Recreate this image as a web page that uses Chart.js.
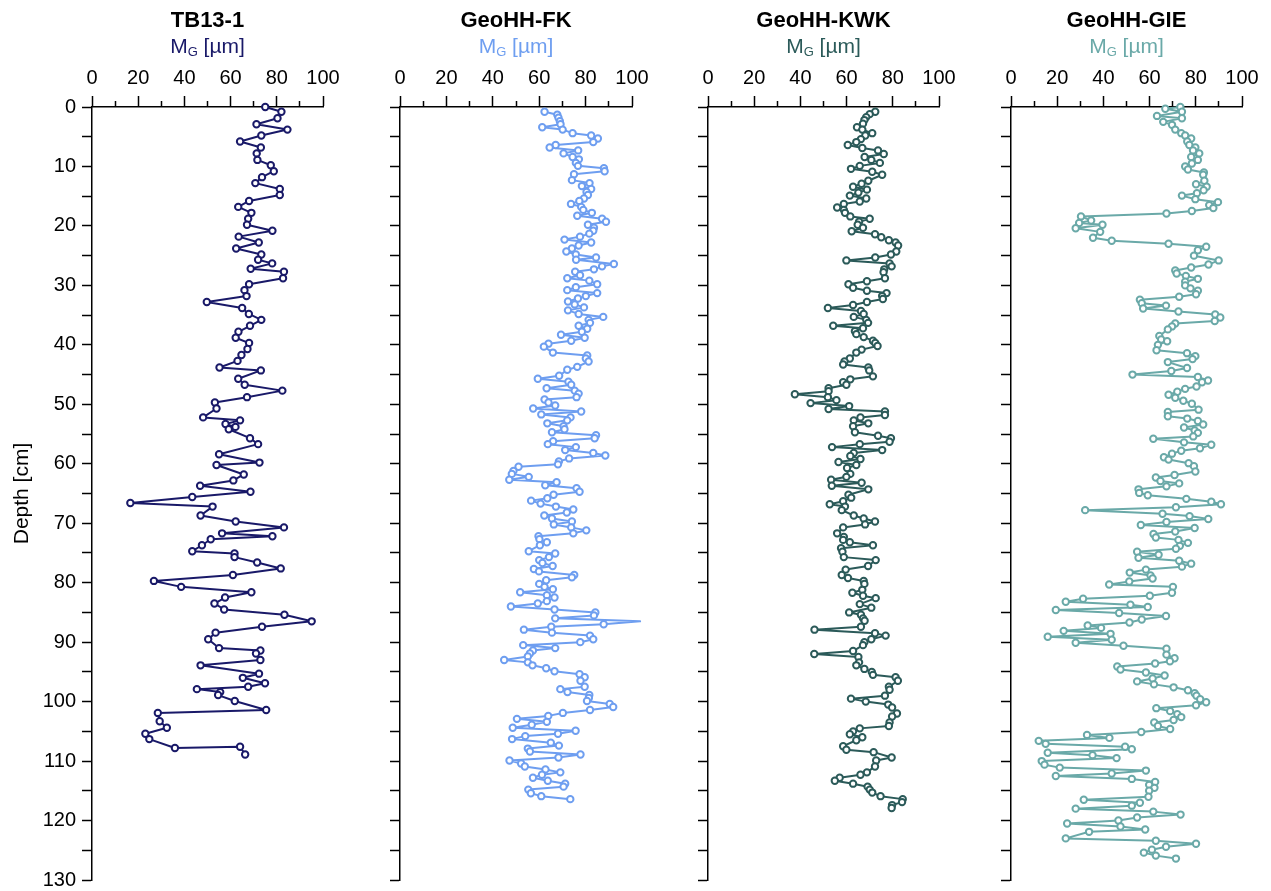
<!DOCTYPE html>
<html>
<head>
<meta charset="utf-8">
<title>Mean grain size profiles</title>
<script src="https://cdn.jsdelivr.net/npm/chart.js@4.4.1/dist/chart.umd.min.js"></script>
<style>
  body { margin: 0; background: #fff; }
  #page { position: relative; width: 1271px; height: 891px; overflow: hidden; font-family: "Liberation Sans", Arial, sans-serif; }
  #page canvas { position: absolute; top: 0; }
  .core { position: absolute; top: 0; width: 260px; margin-left: -130px; text-align: center; }
  .core .name { position: absolute; top: 7px; width: 100%; font-size: 22px; font-weight: bold; line-height: 26px; color: #000; }
  .core .unit { position: absolute; top: 33px; width: 100%; font-size: 21px; line-height: 26px; }
  .core .unit sub { font-size: 13px; vertical-align: -3px; }
</style>
</head>
<body>
<div id="page">
  <canvas id="c1"></canvas>
  <canvas id="c2"></canvas>
  <canvas id="c3"></canvas>
  <canvas id="c4"></canvas>
</div>
<script>
// depth [cm] and mean grain size M_G [um]
const tbDepth = [
  0, 0.8, 1.9, 2.9, 3.8, 4.8, 5.8, 6.8, 7.8, 8.9,
  9.8, 10.8, 11.8, 12.8, 13.8, 14.8, 15.8, 16.8, 17.8, 18.8,
  19.8, 20.8, 21.8, 22.8, 23.8, 24.8, 25.7, 26.3, 27.2, 27.7,
  28.8, 29.8, 30.8, 31.8, 32.8, 33.8, 34.8, 35.8, 36.8, 37.8,
  38.8, 39.7, 40.7, 41.7, 42.7, 43.8, 44.3, 45.7, 46.7, 47.7,
  48.8, 49.7, 50.7, 52.2, 52.7, 53.3, 53.8, 54.2, 55.7, 56.7,
  58.4, 59.8, 60.2, 61.8, 62.8, 63.7, 64.7, 65.6, 66.6, 67.2,
  68.7, 69.7, 70.7, 71.7, 72.2, 72.7, 73.7, 74.7, 75.1, 75.7,
  76.6, 77.6, 78.7, 79.7, 80.7, 81.6, 82.5, 83.5, 84.5, 85.4,
  86.5, 87.4, 88.4, 89.5, 91.0, 91.4, 91.9, 93.0, 93.9, 95.3,
  96.0, 96.9, 97.5, 97.9, 98.4, 98.9, 99.9, 101.4, 101.9, 103.3,
  104.4, 105.4, 106.3, 107.8, 107.6, 108.9
];
const tbMg = [
  75, 82, 80.3, 71.2, 84.6, 73.3, 64.1, 73.1, 71.3, 71.6,
  77.4, 78.7, 73.6, 70.7, 81.3, 81.3, 68, 63.3, 69, 67.6,
  67.1, 78.1, 63.5, 72.2, 62.4, 73.3, 71.9, 78, 68.7, 83.1,
  82.7, 68, 66, 66.9, 49.7, 65, 67.9, 73.3, 68.4, 63.4,
  62.2, 68, 67.3, 64.7, 63, 55.2, 73.1, 63.3, 66.1, 82.4,
  67.1, 53.2, 53.9, 48.1, 64.1, 57.8, 62.1, 59.2, 68.4, 71.9,
  55, 72.5, 53.9, 65.7, 61.2, 46.8, 68.6, 43.4, 16.6, 52.2,
  47, 62.2, 83.1, 56.3, 78.1, 51.4, 47.6, 43.4, 61.7, 61.7,
  71.5, 81.7, 61, 26.8, 38.6, 69, 57.6, 53, 57.2, 83.3,
  95.1, 73.6, 53.5, 50.3, 55, 72.9, 71, 72.9, 47, 72.3,
  65.3, 74.9, 67.6, 45.4, 55.5, 54.6, 61.8, 75.4, 28.5, 29.3,
  32.4, 23.1, 24.8, 35.9, 64.1, 66.3
];

const fkDepth = [
  0.8, 1.3, 1.8, 2.4, 2.9, 3.4, 3.8, 4.4, 4.8, 5.3,
  5.9, 6.4, 6.8, 7.3, 7.8, 8.4, 8.8, 9.4, 9.9, 10.3,
  10.8, 11.3, 12.3, 12.8, 13.3, 13.8, 14.3, 14.8, 15.4, 15.8,
  16.3, 16.8, 17.3, 17.8, 18.3, 18.8, 19.3, 19.8, 20.3, 20.8,
  21.3, 21.8, 22.3, 22.8, 23.3, 23.8, 24.3, 24.8, 25.3, 25.7,
  26.4, 26.8, 27.3, 27.7, 28.3, 28.8, 29.2, 29.8, 30.3, 30.8,
  31.3, 31.8, 32.2, 32.7, 33.2, 33.7, 34.2, 34.8, 35.3, 35.8,
  36.3, 36.8, 37.3, 37.8, 38.3, 38.8, 39.3, 39.8, 40.3, 41.3,
  41.8, 42.3, 42.8, 43.7, 44.2, 45.2, 45.7, 46.2, 46.7, 47.3,
  47.7, 48.2, 48.8, 49.2, 49.7, 50.2, 50.7, 51.2, 51.7, 52.2,
  52.7, 53.2, 53.7, 54.2, 54.7, 55.2, 55.7, 56.2, 56.7, 57.2,
  57.7, 58.2, 58.6, 59.1, 59.6, 60.1, 60.5, 61.2, 61.7, 62.2,
  62.7, 63.1, 63.6, 64.1,
  64.7, 65.2, 65.8, 66.2, 66.7, 67.2, 67.7, 68.2, 68.7, 69.2,
  69.7, 70.2, 70.7, 71.2, 71.7, 72.2, 72.7, 73.2, 73.7, 74.7,
  75.1, 75.7, 76.2, 76.7, 77.2, 77.7, 78.1, 78.7, 79.1, 79.6,
  80.2, 80.7, 81.1, 81.6, 82.1, 82.5, 83.1, 83.5, 84, 84.5,
  85, 85.5, 86, 86.5, 87, 87.4, 87.9, 88.4, 88.9, 89.5,
  90, 90.5, 91, 91.4, 91.9, 92.4, 93, 93.4, 93.9, 94.4,
  94.9, 95.4, 95.9, 96.5, 97.5, 97.9, 98.4, 98.9, 99.4, 99.9,
  100.4, 100.9, 101.4, 101.9, 102.4, 102.9, 103.4, 103.9, 104.4, 104.9,
  105.4, 105.8, 106.3, 106.9, 107.4, 107.9, 108.4, 108.9, 109.4, 109.9,
  110.4, 110.9, 111.4, 111.9, 112.3, 112.8, 113.3, 113.8, 114.3, 114.8,
  115.4, 115.9, 116.4
];
const fkMg = [
  62.3, 67.8, 68.3, 68.9, 69.2, 61.3, 70.1, 74.4, 82.4, 85.3,
  83.3, 67.1, 64.5, 76.8, 70.5, 74.4, 77.1, 75.8, 76.7, 87.9,
  88.2, 75, 74.1, 81.7, 78.4, 82.4, 80.4, 81, 79.3, 77.3,
  73.7, 78.1, 79, 82.7, 76.4, 87.1, 88.8, 81, 83.6, 83.3,
  81.6, 77.6, 70.9, 82.4, 77, 74.1, 71.7, 75.8, 84.5, 75.9,
  92.2, 87.1, 83.6, 75.5, 77.6, 72.1, 81.6, 85, 75.8, 72.1,
  85, 80.1, 76.7, 72.4, 75.3, 79.3, 72.4, 77, 87.6, 81.3,
  81.9, 77, 80.7, 78.4, 69.4, 79.6, 73.8, 64, 62, 65.9,
  80.7, 80.1, 81.3, 76.4, 72.1, 68.6, 59.4, 72.6, 73.8, 63.2,
  75.3, 77, 76.1, 62.3, 64, 66.9, 57.4, 78.1, 60.9, 73.5,
  72.1, 63.5, 70.5, 70.9, 65.5, 84.5, 83.9, 66, 63.7, 75.8,
  71.2, 83.3, 88.5, 72.9, 68.5, 68.1, 51.1, 48.9, 48.2, 55.5,
  47.1, 67.5, 62.6, 76.1,
  77.4, 66.2, 63.5, 56.5, 60.6, 67.2, 74.7, 71.9, 62.2, 65.5,
  74.1, 66.3, 73.8, 80.3, 74.7, 59.7, 60.1, 63.3, 60.3, 55.5,
  66.9, 64.2, 60, 61.4, 65.8, 57.7, 59.9, 75.1, 74.1, 63,
  60, 62.3, 65.9, 51.8, 63.3, 66.6, 63.3, 59.4, 47.8, 66.6,
  84.2, 83.6, 66.9, 103.5, 87.8, 65.2, 53.4, 65.5, 81.9, 83.3,
  77.7, 53.1, 66.9, 57.3, 56, 55.1, 44.9, 55.1, 57.1, 63,
  66.6, 77.4, 79.6, 77.8, 79.6, 69.1, 72.2, 81.6, 81.4, 80.6,
  90.4, 91.9, 81.9, 70.2, 63.9, 50.4, 63.3, 56.8, 48.6, 75.7,
  68.1, 54, 48.3, 65, 68.5, 55.1, 56, 77.8, 68.3, 47.2,
  52.2, 53.8, 62.7, 69.1, 61.2, 57.3, 63.7, 71.2, 70.5, 55.3,
  56.4, 60.9, 73.4
];

const kwkDepth = [
  0.8, 1.2, 1.7, 2.2, 2.8, 3.4, 3.8, 4.4, 4.8, 5.4,
  5.9, 6.4, 6.9, 7.3, 7.9, 8.4, 8.9, 9.4, 9.9, 10.4,
  10.9, 11.4, 12.4, 12.9, 13.4, 13.9, 14.4, 14.9, 15.4, 15.9,
  16.3, 16.9, 17.3, 17.8, 18.4, 18.8, 19.3, 19.8, 20.3, 20.9,
  21.4, 21.9, 22.4, 22.8, 23.3, 24.3, 24.8, 25.3, 25.8, 26.3,
  26.8, 27.3, 27.8, 28.8, 29.3, 29.8, 30.4, 30.9, 31.3, 31.8,
  32.3, 32.8, 33.3, 33.8, 34.3, 34.8, 35.3, 35.8, 36.3, 36.8,
  37.2, 37.7, 38.2, 38.7, 39.3, 39.7, 40.2, 40.8, 41.3, 42.3,
  42.8, 43.3, 43.8, 44.3, 45.3, 45.8, 46.3, 46.7, 47.3, 47.8,
  48.3, 48.8, 49.3, 49.8, 50.3, 50.8, 51.2, 51.8, 52.2, 52.7,
  53.2, 53.7, 54.7, 55.3, 55.7, 56.3, 56.7, 57.2, 57.7, 58.2,
  58.7, 59.2, 59.7, 60.2, 60.7, 61.7, 62.2, 62.7, 63.2, 63.7,
  64.3, 65.2, 65.7, 66.3, 66.8, 67.2, 67.8, 68.7, 69.2, 69.7,
  70.2, 70.7, 71.7, 72.3, 72.8, 73.2, 73.7, 74.2, 74.8, 75.7,
  76.2, 77.2, 77.8, 78.7, 79.2, 79.7, 80.2, 81.2, 81.7, 82.2,
  82.6, 83.6, 84.2, 85, 85.4, 86, 86.4, 87.4, 87.9, 88.5,
  88.9, 89.5, 90, 90.5, 91.5, 92, 92.5, 93.4, 93.9, 94.5,
  95, 95.5, 95.9, 96.5, 97.5, 98, 99, 99.5, 100, 100.5,
  101, 102, 102.5, 103.5, 104.1, 104.5, 105, 105.5, 106, 106.5,
  107.5, 108.1, 108.5, 109.4, 109.9, 110.9, 111.9, 112.3, 112.8, 113.3,
  113.8, 114.3, 114.8, 115.3, 115.9, 116.4, 116.9, 117.4, 117.9
];
const kwkMg = [
  72.4, 70, 68.5, 67.7, 67.1, 64.5, 66.8, 71.1, 68.1, 66.2,
  64.2, 60.5, 66.8, 73.6, 76.1, 67.8, 70.7, 74.4, 65.7, 61.9,
  71.1, 75.4, 69.4, 66.5, 62.8, 68.8, 65.1, 61.4, 68.5, 65.7,
  58.8, 55.9, 58.8, 59.3, 61.6, 70, 65.4, 64.8, 67.1, 62.2,
  72.3, 75, 78.3, 81.2, 82.3, 81.5, 79.2, 72.4, 59.9, 78.6,
  79.5, 76.3, 76, 76.6, 68.8, 60.8, 62.8, 68.8, 77.3, 75.4,
  75.7, 68.8, 62.8, 51.9, 66.2, 67.4, 63.1, 68.5, 69.3, 54.2,
  67.1, 63.6, 64.2, 67.4, 71.4, 72.4, 73.4, 66.5, 64.2, 61.4,
  59.1, 58.5, 69.4, 69.8, 71.4, 61.6, 58.5, 59.9, 52.2, 52.2,
  37.6, 51.9, 55.6, 44.4, 61.1, 52.2, 76.6, 76.6, 66, 63.1,
  69.4, 62.8, 63.6, 73.6, 79.2, 78.6, 65.7, 53.7, 75.4, 63.1,
  61.6, 66, 56.5, 64.2, 60.2, 61.6, 59.9, 53.3, 66.5, 53.6,
  69.4, 60.8, 62, 58.5, 52.7, 59.3, 57.9, 63.1, 67.4, 72.3,
  68, 58.5, 55.9, 58.8, 58.5, 61.4, 71.4, 57.6, 58.2, 58.8,
  72.6, 69.3, 59.6, 57.9, 60.6, 67.4, 67.7, 66.8, 62.5, 67.1,
  72.6, 65.7, 70.7, 61.1, 66.2, 67.1, 67.8, 66.2, 46.1, 72.3,
  76.9, 70.7, 67.7, 67.1, 62.8, 46, 65.1, 65.4, 64.2, 67.7,
  70.9, 71.4, 81.2, 82.2, 78.3, 78.6, 76.6, 61.9, 68.3, 78,
  79.7, 81.8, 79.7, 78.6, 78.3, 65.7, 62.8, 61.4, 66.8, 64.2,
  58.5, 59.9, 71.7, 79.5, 72.8, 72.3, 68.8, 66, 57, 54.9,
  62.8, 69.1, 70, 71.1, 74.7, 84.3, 84, 79.7, 79.5
];

const gieDepth = [
  0, 0.3, 0.8, 1.5, 1.9, 2.5, 3, 3.8, 4.4, 4.8,
  5.3, 5.8, 6.4, 6.8, 7.3, 7.8, 8.4, 8.9, 9.5, 10,
  10.5, 11, 11.4, 12.4, 13, 13.4, 14, 14.5, 14.9, 15.5,
  16, 16.5, 17, 17.5, 17.9, 18.4, 19.1, 19.5, 19.8, 20.4,
  21, 22, 22.5, 23, 23.5, 24.1, 25, 25.8, 26.5, 27,
  27.5, 28, 28.4, 28.9, 29.4, 30, 30.5, 30.9, 31.5, 31.9,
  32.4, 33, 33.4, 33.9, 34.4, 34.9, 35.4, 36, 36.4, 36.9,
  37.4, 38.5, 39.1, 39.4, 40, 40.9, 41.4, 41.9, 42.4, 42.9,
  43.9, 44.4, 45, 45.4, 46, 46.3, 47, 47.4, 47.9, 48.4,
  48.9, 49.4, 49.9, 50.9, 51.3, 52, 52.4, 52.8, 53.4, 53.9,
  54.4, 54.8, 55.4, 55.8, 56.4, 56.8, 57.4, 57.8, 58.3, 58.9,
  59.3, 59.9, 60.4, 61.3, 61.9, 62.3, 62.9, 63.3,
  63.8, 64.3, 64.9, 65.3, 65.9, 66.4, 66.8, 67.3, 67.8, 68.4,
  68.8, 69.3, 69.8, 70.3, 70.8, 71.4, 71.8, 72.4, 72.8, 73.3,
  73.8, 74.3, 74.8, 75.3, 75.8, 76.3, 76.8, 77.3, 77.8, 78.3,
  78.8, 79.3, 79.8, 80.3, 80.7, 81.7, 82.2, 82.7, 83.2, 83.7,
  84.1, 84.6, 85.1, 85.6, 86.2, 86.7, 87.2, 87.6, 88.1, 88.6,
  89.1, 89.6, 90.1, 90.6, 91.1, 92.1, 92.7, 93.2, 93.6, 94.1,
  94.6, 95.1, 95.6, 96.1, 96.6, 97.1, 97.6, 98.1, 98.6, 99,
  99.6, 100.1, 100.6, 101.1, 101.6, 102.1, 102.6, 103.1, 103.5, 104.1,
  104.6, 105.1, 105.6, 106.1, 106.6, 107.1, 107.6, 108, 108.6, 109,
  109.5, 110, 110.6, 111.1, 111.6, 112.1, 112.5, 113, 113.5, 114,
  114.5, 115, 116, 116.5, 117, 117.5, 118, 118.5, 119, 119.5,
  120, 120.5, 121, 121.5, 121.9, 123, 123.4, 123.9, 124.4, 124.9,
  125.4, 125.9, 126.4
];
const gieMg = [
  73.3, 66.8, 74, 63.2, 74, 65.9, 69.7, 71.1, 73.7, 75.4,
  78, 76.3, 77.2, 79.8, 78.8, 81.5, 78, 80.9, 78.3, 75.4,
  76.6, 83.5, 83.2, 83.7, 80.1, 84.7, 83.4, 80.5, 74, 79.8,
  89.6, 85.8, 87.6, 78.3, 67.3, 30.3, 34.7, 29.5, 39.6, 28,
  38.6, 35.5, 43.6, 68.2, 84.5, 80.9, 79.2, 89.9, 85.5, 78,
  71.1, 71.7, 75.7, 80.9, 75.4, 75.4, 77.7, 80.9, 80.1, 72.8,
  55.8, 56.6, 67.1, 57.2, 72.5, 88.4, 90.6, 88.2, 71.1, 69.7,
  67.9, 64.2, 65, 67.6, 63.6, 63, 76.2, 79.8, 78.6, 67.9,
  76.2, 69.4, 52.6, 80.9, 85.3, 82.7, 80.3, 75.4, 72, 68.2,
  71.1, 74.6, 78.3, 81.2, 67.9, 67.9, 76.3, 80.9, 83.2, 74.9,
  79.5, 80.9, 78.9, 61.6, 74.9, 86.7, 81.8, 73.7, 69.7, 66.2,
  68.2, 76.9, 79.2, 79.8, 70.8, 62.7, 64.7, 72.8,
  67.3, 55.2, 55.5, 59.2, 75.9, 86.7, 90.9, 71.4, 32.1, 65.6,
  77.3, 85.4, 67.3, 56.2, 79.5, 71.1, 61.7, 62.7, 72.5, 76.6,
  73.1, 71.4, 54.6, 63.9, 55.2, 72.8, 78, 74, 58.4, 51.4,
  60.4, 61.3, 51.2, 42.5, 70.1, 69.7, 60.1, 31.2, 23.7, 51.7,
  59.2, 19.4, 46.8, 67.1, 56.6, 51.3, 33.2, 39, 22.8, 43.1,
  15.9, 43.6, 28, 48.7, 67.3, 67.3, 70.8, 68.8, 62.4, 46,
  47.4, 58.4, 66.5, 61.3, 54.6, 61.9, 70.4, 76.6, 79.5, 80.3,
  81.9, 84.5, 80.1, 62.9, 68.9, 72, 73.7, 70.4, 62, 63.6,
  68.9, 56.4, 32.9, 42.6, 12, 15, 49.4, 52.3, 15.9, 35.3,
  45.7, 13.3, 14.5, 21.1, 58.4, 43.6, 19.4, 52.3, 62.4, 59.8,
  62.1, 59.8, 59.5, 31.5, 55.8, 52.3, 28, 61.6, 73.4, 54.6,
  46.5, 24.3, 47.4, 58.1, 33.8, 23.7, 62.7, 80.1, 67.1, 61,
  57.5, 62.7, 71.4
];

const coreNames = ['TB13-1', 'GeoHH-FK', 'GeoHH-KWK', 'GeoHH-GIE'];
const xLabels = [0, 20, 40, 60, 80, 100];
const yLabels = [0, 10, 20, 30, 40, 50, 60, 70, 80, 90, 100, 110, 120, 130];

const FONT = '"Liberation Sans", Arial, sans-serif';
const H = 891;

function drawCore(id, name, depth, mg, color, plotLeft, plotRight, axisW, withLabels) {
    const canvas = document.getElementById(id);
    const padR = 20;
    canvas.width = axisW + (plotRight - plotLeft) + padR;
    canvas.height = H;
    canvas.style.left = (plotLeft - axisW) + 'px';

    // core name + axis unit above the panel
    const head = document.createElement('div');
    head.className = 'core';
    head.style.left = ((plotLeft + plotRight) / 2) + 'px';
    head.innerHTML = '<div class="name">' + name + '</div>' +
        '<div class="unit" style="color:' + color + '">M<sub>G</sub> [µm]</div>';
    document.getElementById('page').appendChild(head);

    const n = Math.min(depth.length, mg.length);
    const points = [];
    for (let i = 0; i < n; i++) {
        points.push({ x: mg[i], y: depth[i] });
    }

    new Chart(canvas, {
        type: 'scatter',
        data: {
            datasets: [{
                data: points,
                showLine: true,
                borderColor: color,
                borderWidth: 2,
                borderJoinStyle: 'round',
                pointRadius: 3.2,
                pointBorderWidth: 2,
                pointBackgroundColor: '#fff',
                pointBorderColor: color,
                clip: false,
            }]
        },
        options: {
            responsive: false,
            animation: false,
            events: [],
            layout: { padding: { left: 0, top: 0, right: padR, bottom: H - 880 } },
            plugins: { legend: { display: false }, tooltip: { enabled: false } },
            scales: {
                x: {
                    type: 'linear',
                    position: 'top',
                    min: 0,
                    max: 100,
                    ticks: {
                        stepSize: 10,
                        autoSkip: false,
                        maxRotation: 0,
                        padding: 6,
                        color: '#000',
                        font: { size: 20, family: FONT },
                        callback: function (v) { return xLabels.includes(v) ? v : ''; }
                    },
                    grid: {
                        drawOnChartArea: false,
                        tickLength: 11,
                        tickWidth: 1.5,
                        tickColor: '#000',
                        tickBorderDash: [11, 11],
                        // short ticks at the odd tens
                        tickBorderDashOffset: function (ctx) {
                            return ctx.tick && xLabels.includes(ctx.tick.value) ? 0 : 17;
                        }
                    },
                    border: { color: '#000', width: 1.5 },
                    afterFit: function (scale) {
                        scale.height = 107;
                        scale.paddingLeft = 0;
                        scale.paddingRight = 0;
                    }
                },
                y: {
                    type: 'linear',
                    position: 'left',
                    reverse: true,
                    min: 0,
                    max: 130,
                    ticks: {
                        stepSize: 5,
                        autoSkip: false,
                        padding: 6,
                        color: '#000',
                        font: { size: 20, family: FONT },
                        callback: function (v) { return withLabels && yLabels.includes(v) ? v : ''; }
                    },
                    grid: {
                        drawOnChartArea: false,
                        tickLength: 10,
                        tickWidth: 1.5,
                        tickColor: '#000'
                    },
                    border: { color: '#000', width: 1.5 },
                    title: {
                        display: withLabels,
                        text: 'Depth [cm]',
                        color: '#000',
                        font: { size: 21, family: FONT },
                        padding: { top: 10, bottom: 0 }
                    },
                    afterFit: function (scale) {
                        scale.width = axisW;
                        scale.paddingTop = 0;
                        scale.paddingBottom = 0;
                    }
                }
            }
        }
    });
}

drawCore('c1', coreNames[0], tbDepth, tbMg, '#191968', 92, 323, 92, true);
drawCore('c2', coreNames[1], fkDepth, fkMg, '#6e9ef0', 400, 632, 30, false);
drawCore('c3', coreNames[2], kwkDepth, kwkMg, '#2b5a59', 708, 939, 30, false);
drawCore('c4', coreNames[3], gieDepth, gieMg, '#6aa9a8', 1011, 1242, 30, false);
</script>
</body>
</html>
